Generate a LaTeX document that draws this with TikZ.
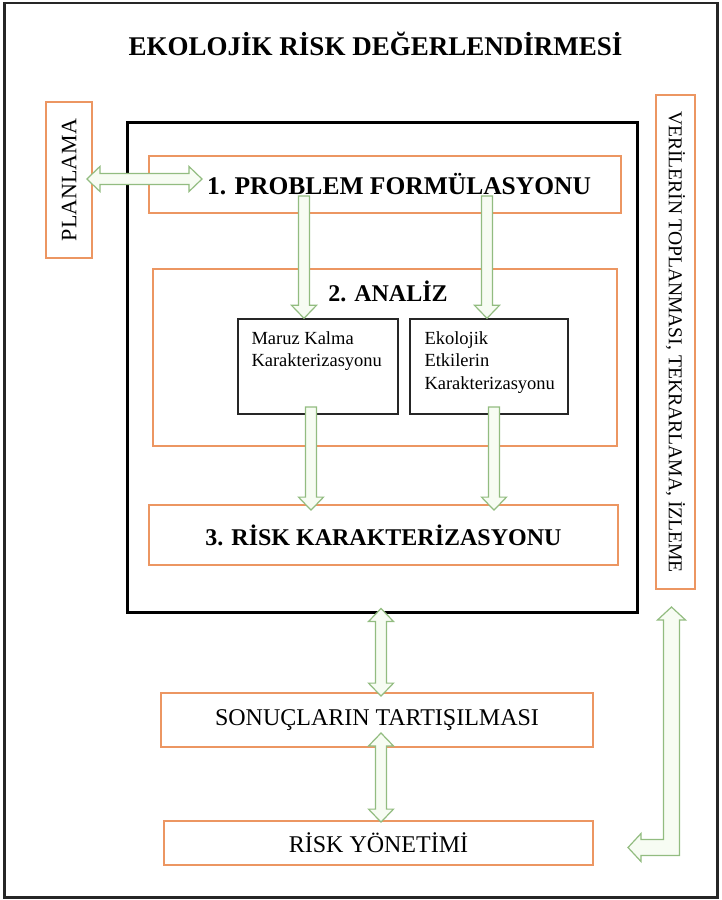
\documentclass[tikz,border=0pt]{standalone}
\usepackage{fontspec}
\setmainfont{Liberation Serif}
\usetikzlibrary{calc}
\definecolor{boxorange}{RGB}{236,150,98}
\definecolor{arrgreen}{RGB}{146,188,128}
\definecolor{arrfill}{RGB}{247,252,243}
\newcommand{\fsz}[2]{\fontsize{#1}{#2}\selectfont}
% hollow block arrows between two named points
\newcommand{\blockarr}[2]{%
  \filldraw[garr] ($(#1)!5.5pt!90:(#2)$)
    -- ($($(#2)!13pt!(#1)$)!5.5pt!90:(#2)$) -- ($($(#2)!13pt!(#1)$)!12.5pt!90:(#2)$)
    -- (#2)
    -- ($($(#2)!13pt!(#1)$)!12.5pt!-90:(#2)$) -- ($($(#2)!13pt!(#1)$)!5.5pt!-90:(#2)$)
    -- ($(#1)!5.5pt!-90:(#2)$) -- cycle;}
\newcommand{\dblockarr}[2]{%
  \filldraw[garr] (#1)
    -- ($($(#1)!13pt!(#2)$)!12.5pt!90:(#2)$) -- ($($(#1)!13pt!(#2)$)!5.5pt!90:(#2)$)
    -- ($($(#2)!13pt!(#1)$)!5.5pt!90:(#2)$) -- ($($(#2)!13pt!(#1)$)!12.5pt!90:(#2)$)
    -- (#2)
    -- ($($(#2)!13pt!(#1)$)!12.5pt!-90:(#2)$) -- ($($(#2)!13pt!(#1)$)!5.5pt!-90:(#2)$)
    -- ($($(#1)!13pt!(#2)$)!5.5pt!-90:(#2)$) -- ($($(#1)!13pt!(#2)$)!12.5pt!-90:(#2)$)
    -- cycle;}

\begin{document}
\begin{tikzpicture}[x=1pt,y=-1pt,
  obox/.style={draw=boxorange,line width=1.8pt,fill=white,inner sep=0pt},
  kbox/.style={draw=black!85,line width=1.4pt,fill=white,inner sep=0pt},
  garr/.style={draw=arrgreen,fill=arrfill,line width=1.2pt,line join=miter}]
\useasboundingbox (0,0) rectangle (722,900);
\draw[line width=2.5pt,black!85] (4.5,3) rectangle (717.5,897.5);

\node[anchor=base,font=\bfseries\fsz{27}{32}] (title) at (375.5,55) {EKOLOJİK RİSK DEĞERLENDİRMESİ};

% side boxes
\node[obox,rotate=90,minimum width=156,minimum height=46,font=\fsz{22}{26}] (plan) at (69,180) {PLANLAMA};
\node[obox,rotate=-90,minimum width=494,minimum height=39,font=\fsz{19.6}{24}] (verileri) at (675.5,342) {VERİLERİN TOPLANMASI, TEKRARLAMA, İZLEME};

% main frame
\node[draw,line width=3pt,fill=white,minimum width=510,minimum height=490,inner sep=0pt] (frame) at (382,367) {};
\node[obox,minimum width=472,minimum height=57,font=\bfseries\fsz{25.5}{30}] (prob) at (385,184.5) {\hspace*{28pt}1. PROBLEM FORMÜLASYONU};
\node[obox,minimum width=464,minimum height=177,
  label={[anchor=base,xshift=3pt,yshift=-33pt,font=\bfseries\fsz{24}{28}]north:2. ANALİZ}] (analiz) at (385,357.5) {};
\node[kbox,minimum width=160,minimum height=95,
  label={[anchor=north west,align=left,inner sep=0pt,xshift=14pt,yshift=-13pt,font=\fsz{18.5}{22.5}]north west:Maruz Kalma\\Karakterizasyonu}] (maruz) at (318,366.5) {};
\node[kbox,minimum width=158,minimum height=95,
  label={[anchor=north west,align=left,inner sep=0pt,xshift=15pt,yshift=-13pt,font=\fsz{18.5}{22.5}]north west:Ekolojik\\Etkilerin\\Karakterizasyonu}] (ekoetki) at (489,366.5) {};
\node[obox,minimum width=469,minimum height=60,font=\bfseries\fsz{24}{28}] (riskkar) at (383.5,535) {3. RİSK KARAKTERİZASYONU};

% lower boxes
\node[obox,minimum width=432,minimum height=54,font=\fsz{24}{28}] (sonuc) at (377,720) {SONUÇLARIN TARTIŞILMASI};
\node[obox,minimum width=429,minimum height=44,font=\fsz{24}{28}] (yonetim) at (378.5,843) {RİSK YÖNETİMİ};

% arrows
\coordinate (p1) at ([xshift=-6pt]plan.south);
\coordinate (p2) at (202,179);
\dblockarr{p1 |- p2}{p2}
\coordinate (a1) at (304,196);
\coordinate (a1e) at (a1 |- maruz.north);
\blockarr{a1}{a1e}
\coordinate (a2) at (487,196);
\coordinate (a2e) at (a2 |- ekoetki.north);
\blockarr{a2}{a2e}
\coordinate (a3) at (311,407);
\coordinate (a3e) at ($(a3 |- riskkar.north)+(0,6)$);
\blockarr{a3}{a3e}
\coordinate (a4) at (494,407);
\coordinate (a4e) at ($(a4 |- riskkar.north)+(0,6)$);
\blockarr{a4}{a4e}
\coordinate (a5) at ($(frame.south)+(-1,-5)$);
\coordinate (a5e) at ($(a5 |- sonuc.north)+(0,4)$);
\dblockarr{a5}{a5e}
\coordinate (a6) at (381,733);
\coordinate (a6e) at ($(a6 |- yonetim.north)+(0,2)$);
\dblockarr{a6}{a6e}
% return arrow
\coordinate (up) at (671.5,607);
\coordinate (lt) at (628,847.5);
\filldraw[garr] (up) -- ++(14,13) -- ++(-6,0) -- (679.5,855.5) -- (641,855.5) -- ++(0,6)
  -- (lt) -- (641,833.5) -- ++(0,6) -- (663.5,839.5) -- (663.5,620) -- ++(-6,0) -- cycle;
\end{tikzpicture}
\end{document}
